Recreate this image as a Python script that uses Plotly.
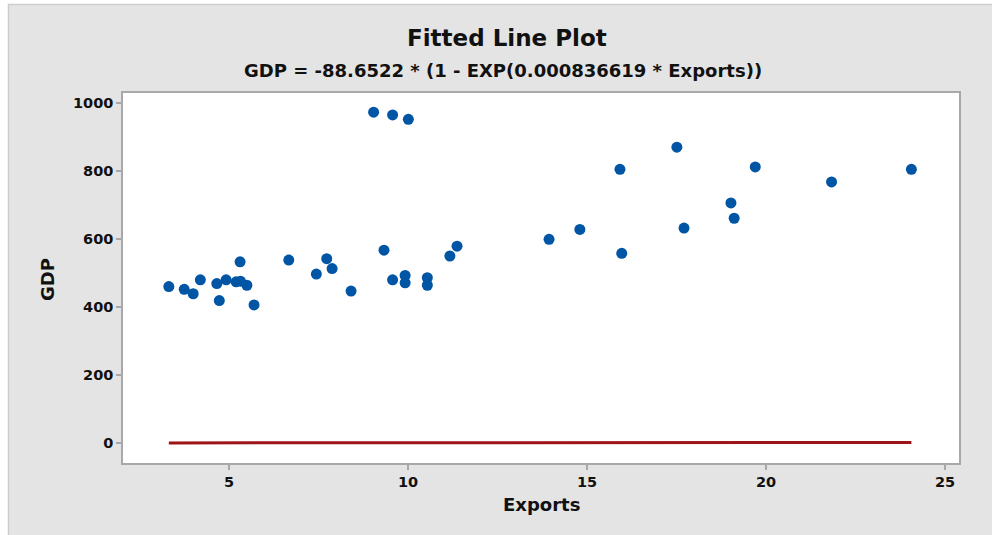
import numpy as np
import plotly.graph_objects as go

# Observed data
exports = [3.32, 3.75, 4.00, 4.20, 4.66, 4.73, 4.92, 5.20, 5.32, 5.31,
           5.50, 5.70, 6.67, 7.44, 7.73, 7.88, 8.41, 9.04, 9.57, 10.01,
           9.33, 9.57, 9.92, 9.92, 10.54, 10.54, 11.17, 11.37, 13.94, 14.80,
           15.92, 15.97, 17.51, 17.71, 19.02, 19.11, 19.70, 21.83, 24.06]
gdp = [460, 452, 439, 480, 469, 419, 480, 474, 476, 533,
       464, 406, 538, 497, 542, 513, 447, 973, 965, 952,
       567, 480, 493, 471, 486, 464, 550, 579, 599, 628,
       805, 558, 870, 632, 706, 661, 812, 768, 805]

# Fitted model coefficients
coef_a = -88.6522
coef_b = 0.000836619

y_ticks = [0, 200, 400, 600, 800, 1000]
x_ticks = [5, 10, 15, 20, 25]

fit_x = np.linspace(min(exports), max(exports), 200)
fit_y = coef_a * (1 - np.exp(coef_b * fit_x))

W, H = 992, 535
L, R, T, B = 123, 959, 93, 463


def px(x):
    return (x - L) / (R - L)


def py(y):
    return (B - y) / (B - T)


FONT = "DejaVu Sans"
TXT = "#111111"

fig = go.Figure()
fig.add_trace(go.Scatter(
    x=fit_x, y=fit_y, mode="lines",
    line=dict(color="#9E1318", width=3),
    hoverinfo="skip", showlegend=False))
fig.add_trace(go.Scatter(
    x=exports, y=gdp, mode="markers",
    marker=dict(color="#0055A5", size=11, line=dict(width=0)),
    showlegend=False))

axis_common = dict(
    showgrid=False, zeroline=False, showline=True, mirror=True,
    linecolor="#A8A8A8", linewidth=1.5,
    ticks="outside", ticklen=5, tickcolor="#A8A8A8", tickwidth=1.5,
    tickfont=dict(family=FONT, size=14.5, color=TXT, weight=600),
)

fig.update_layout(
    width=W, height=H,
    margin=dict(l=L, r=W - R, t=T, b=H - B),
    paper_bgcolor="#E4E4E4",
    plot_bgcolor="white",
    xaxis=dict(range=[2.04, 25.39], tickvals=x_ticks, **axis_common),
    yaxis=dict(range=[-58.8, 1029.4], tickvals=y_ticks, **axis_common),
    shapes=[
        # white strips along the top and left edges, plus the frame border
        dict(type="rect", xref="paper", yref="paper",
             x0=px(-2), x1=px(W + 2), y0=py(4), y1=py(-2),
             fillcolor="white", line=dict(width=0), layer="below"),
        dict(type="rect", xref="paper", yref="paper",
             x0=px(-2), x1=px(8), y0=py(H + 2), y1=py(-2),
             fillcolor="white", line=dict(width=0), layer="below"),
        dict(type="line", xref="paper", yref="paper",
             x0=px(8), x1=px(W + 2), y0=py(4.5), y1=py(4.5),
             line=dict(color="#CDCDCD", width=1.5)),
        dict(type="line", xref="paper", yref="paper",
             x0=px(8.5), x1=px(8.5), y0=py(4), y1=py(H + 2),
             line=dict(color="#CDCDCD", width=1.5)),
    ],
    annotations=[
        dict(text="Fitted Line Plot", xref="paper", yref="paper",
             x=px(507), y=py(38), xanchor="center", yanchor="middle",
             showarrow=False,
             font=dict(family=FONT, size=23, color=TXT, weight=600)),
        dict(text="GDP = -88.6522 * (1 - EXP(0.000836619 * Exports))",
             xref="paper", yref="paper",
             x=px(503), y=py(71), xanchor="center", yanchor="middle",
             showarrow=False,
             font=dict(family=FONT, size=18, color=TXT, weight=600)),
        dict(text="Exports", xref="paper", yref="paper",
             x=px(541), y=py(504), xanchor="center", yanchor="middle",
             showarrow=False,
             font=dict(family=FONT, size=18, color=TXT, weight=600)),
        dict(text="GDP", xref="paper", yref="paper",
             x=px(47), y=py(280), xanchor="center", yanchor="middle",
             textangle=-90, showarrow=False,
             font=dict(family=FONT, size=18, color=TXT, weight=600)),
    ],
)

fig.write_html("out.html")
